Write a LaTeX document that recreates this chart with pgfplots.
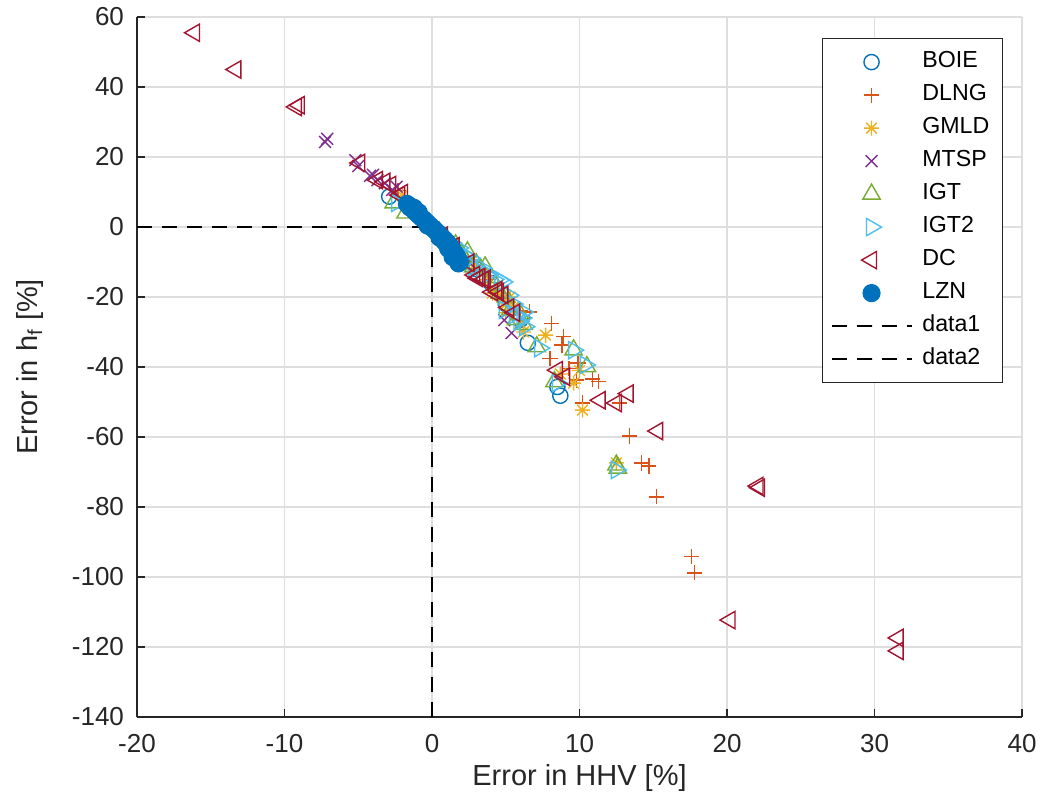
\documentclass[border=0pt]{standalone}
\usepackage{fontspec}
\setmainfont{Liberation Sans}
\usepackage{pgfplots}
\pgfplotsset{compat=1.18}
\usetikzlibrary{calc}

\definecolor{c1}{rgb}{0,0.447,0.741}
\definecolor{c2}{rgb}{0.850,0.325,0.098}
\definecolor{c3}{rgb}{0.929,0.694,0.125}
\definecolor{c4}{rgb}{0.494,0.184,0.556}
\definecolor{c5}{rgb}{0.466,0.674,0.188}
\definecolor{c6}{rgb}{0.301,0.745,0.933}
\definecolor{c7}{rgb}{0.635,0.078,0.184}

% matlab style 8-spoke asterisk
\pgfdeclareplotmark{ast8}{%
  \pgfpathmoveto{\pgfqpoint{-\pgfplotmarksize}{0pt}}\pgfpathlineto{\pgfqpoint{\pgfplotmarksize}{0pt}}%
  \pgfpathmoveto{\pgfqpoint{0pt}{-\pgfplotmarksize}}\pgfpathlineto{\pgfqpoint{0pt}{\pgfplotmarksize}}%
  \pgfpathmoveto{\pgfqpoint{-.707\pgfplotmarksize}{-.707\pgfplotmarksize}}\pgfpathlineto{\pgfqpoint{.707\pgfplotmarksize}{.707\pgfplotmarksize}}%
  \pgfpathmoveto{\pgfqpoint{-.707\pgfplotmarksize}{.707\pgfplotmarksize}}\pgfpathlineto{\pgfqpoint{.707\pgfplotmarksize}{-.707\pgfplotmarksize}}%
  \pgfusepathqstroke}

\begin{document}
\begin{tikzpicture}
\begin{axis}[
  name=ax,
  scale only axis,
  width=442.5pt, height=350pt,
  xmin=-20, xmax=40, ymin=-140, ymax=60,
  xtick={-20,-10,...,40}, ytick={-140,-120,...,60},
  axis x line*=bottom, axis y line*=left,
  axis line style={draw=black!85, line width=0.8pt, -},
  tick style={draw=black!85, line width=0.8pt},
  tick align=inside, major tick length=4pt,
  grid=major,
  major grid style={draw=black!13, line width=0.8pt},
  /pgf/number format/assume math mode=true,
  ticklabel style={font=\fontsize{13}{15}\selectfont, text=black!85},
  xticklabel style={yshift=-5pt},
  yticklabel style={xshift=-3pt},
  label style={font=\fontsize{14.5}{17}\selectfont, text=black!85},
  xlabel={Error in HHV [\%]},
  ylabel={Error in h\textsubscript{f} [\%]},
  xlabel style={at={(axis description cs:0.5,-0.087)}, anchor=center},
  ylabel style={at={(axis description cs:-0.121,0.5)}, anchor=center},
  legend image code/.code={\draw[mark repeat=2,mark phase=2,#1] plot coordinates {(0pt,0pt) (20pt,0pt) (40pt,0pt)};},
  legend cell align=left,
  legend style={at={(0.9785,0.97)}, anchor=north east,
    draw=black!85, line width=0.6pt, fill=white,
    font=\fontsize{11.6}{14}\selectfont,
    inner xsep=4pt, inner ysep=3.5pt, row sep=0pt, column sep=2.5pt,
    nodes={text height=8.5pt, text depth=3pt, inner ysep=2.5pt, inner xsep=2.5pt}},
  every axis plot/.append style={line width=0.7pt},
]
% BOIE
\addplot[only marks, mark=o, mark size=3.8pt, color=c1, mark options={draw=c1}] coordinates {
  (-2.9,8.7) (-1.0,4.0) (0.5,-2.0) (1.5,-7.0) (2.0,-9.0) (3.0,-12.0)
  (4.0,-16.0) (5.0,-22.0) (6.0,-26.5) (6.5,-33.1) (8.5,-45.7) (8.7,-48.2)
};
\addlegendentry{BOIE}
% DLNG
\addplot[only marks, mark=+, mark size=3.8pt, color=c2, mark options={draw=c2}] coordinates {
  (-2.3,10.5) (-1.2,5.2) (0.3,-1.5) (1.2,-5.5) (2.2,-9.5) (3.0,-12.5)
  (3.8,-15.0) (4.5,-19.0) (5.2,-21.5) (6.0,-24.0) (6.6,-24.3) (8.1,-27.5)
  (8.9,-31.3) (8.8,-33.7) (8.0,-37.5) (9.9,-38.9) (9.3,-40.5) (9.8,-43.7)
  (10.9,-43.4) (11.3,-44.2) (10.2,-50.3) (12.7,-50.3) (13.4,-59.7)
  (14.2,-67.4) (14.7,-68.3) (15.2,-77.1) (17.6,-94.2) (17.8,-98.8)
};
\addlegendentry{DLNG}
% GMLD
\addplot[only marks, mark=ast8, mark size=3.8pt, color=c3, mark options={draw=c3}] coordinates {
  (-2.0,9.0) (-0.5,2.5) (1.0,-4.0) (2.1,-8.5) (2.8,-11.0) (3.6,-14.0)
  (4.1,-18.9) (4.2,-17.5) (4.6,-19.5) (5.0,-22.0) (5.1,-21.7) (5.3,-20.0)
  (5.5,-23.0) (5.0,-24.5) (6.0,-27.5) (6.2,-30.0) (7.7,-30.9) (8.7,-42.0)
  (9.6,-44.6) (10.0,-41.0) (10.2,-52.3) (12.5,-67.4)
};
\addlegendentry{GMLD}
% MTSP
\addplot[only marks, mark=x, mark size=4.2pt, color=c4, mark options={draw=c4}] coordinates {
  (-7.25,24.3) (-7.1,25.2) (-5.2,19.1) (-5.0,17.4) (-4.2,14.6) (-4.0,14.9)
  (-3.7,13.4) (-3.2,12.5) (-2.7,10.6) (-2.4,11.5) (1.3,-5.0) (2.5,-10.0)
  (4.9,-26.6) (5.4,-30.3)
};
\addlegendentry{MTSP}
% IGT
\addplot[only marks, mark=triangle, mark size=5pt, color=c5, mark options={draw=c5}] coordinates {
  (-2.6,6.9) (-1.8,4.0) (0.5,-1.5) (1.0,-3.5) (1.6,-5.1) (2.0,-7.5)
  (2.4,-7.1) (2.8,-11.4) (3.0,-10.5) (3.3,-12.0) (3.6,-11.4) (4.0,-14.5)
  (4.3,-16.5) (4.6,-18.9) (5.0,-20.0) (5.3,-23.7) (5.7,-26.5) (6.0,-25.1)
  (6.2,-27.8) (7.1,-34.2) (8.3,-44.2) (9.6,-35.1) (10.5,-39.9) (12.5,-68.0)
  (12.6,-68.9)
};
\addlegendentry{IGT}
% IGT2
\addplot[only marks, mark=triangle, mark size=5pt, mark options={rotate=-90, draw=c6}, color=c6] coordinates {
  (-2.4,6.9) (0.8,-2.8) (1.3,-4.5) (1.8,-6.0) (2.2,-8.0) (2.6,-8.9)
  (2.8,-11.4) (3.4,-11.8) (3.8,-13.5) (4.2,-15.0) (4.6,-15.1) (4.8,-15.7)
  (5.2,-19.5) (5.5,-22.0) (4.9,-23.7) (5.6,-25.1) (5.9,-27.0) (6.1,-26.0)
  (6.2,-24.3) (6.3,-28.5) (7.3,-34.6) (8.5,-44.6) (9.6,-35.2) (10.4,-39.4)
  (12.5,-69.4)
};
\addlegendentry{IGT2}
% DC
\addplot[only marks, mark=triangle, mark size=5pt, mark options={rotate=90, draw=c7}, color=c7] coordinates {
  (-16.1,55.5) (-13.3,45.0) (-9.2,34.3) (-9.0,34.8) (-4.9,18.3)
  (-3.7,13.4) (-3.2,12.9) (-2.8,12.0) (-2.2,9.1) (-2.0,9.7)
  (0.7,-2.5) (1.5,-5.5) (2.5,-10.2)
  (2.9,-13.7) (3.1,-14.6) (3.25,-14.3) (3.5,-15.1) (3.6,-14.8) (4.1,-18.6)
  (4.4,-18.0) (4.5,-18.6) (4.8,-19.4) (5.2,-23.0) (5.6,-24.5)
  (8.5,-40.9) (9.0,-42.8) (11.4,-49.5) (12.5,-50.3)
  (13.3,-47.6) (15.3,-58.3) (22.1,-74.0) (22.2,-74.5) (20.2,-112.3)
  (31.6,-117.4) (31.6,-121.1)
};
\addlegendentry{DC}
% LZN
\addplot[only marks, mark=*, mark size=4.2pt, color=c1, mark options={draw=c1, fill=c1}] coordinates {
  (-1.7,6.6) (-1.6,6.2) (-1.5,5.6) (-1.5,6.0) (-1.4,5.4) (-1.3,5.6) (-1.2,4.6)
  (-1.1,4.2) (-1.0,3.8) (-0.9,3.4) (-0.8,3.0) (-0.7,2.6) (-0.6,2.3)
  (-0.5,1.9) (-0.4,1.5) (-0.3,1.1) (-0.2,0.6) (-0.1,0.3) (0.0,-0.2)
  (0.1,-0.5) (0.2,-0.9) (0.3,-1.3) (0.4,-1.7) (0.5,-2.1) (0.6,-2.6)
  (0.7,-3.0) (0.8,-3.4) (0.8,-4.0) (0.9,-3.8) (1.0,-4.3) (1.0,-5.1)
  (1.1,-4.8) (1.2,-5.3) (1.2,-6.0) (1.3,-5.9) (1.4,-6.5) (1.5,-7.2)
  (1.5,-8.2) (1.6,-7.9) (1.7,-8.6) (1.8,-9.3) (1.9,-10.0) (1.8,-10.4)
  (-1.2,5.4) (-0.9,4.2) (-0.3,0.4) (0.5,-3.0) (1.1,-6.2) (1.4,-8.6)
};
\addlegendentry{LZN}
\addplot[black, line width=0.8pt, dash pattern=on 7.5pt off 5pt] coordinates {(-20,0) (0,0)};
\addlegendentry{data1}
\addplot[black, line width=0.8pt, dash pattern=on 7.5pt off 5pt] coordinates {(0,0) (0,-140)};
\addlegendentry{data2}
\end{axis}
\pgfresetboundingbox
\path[use as bounding box] ($(ax.south west)+(-68.5pt,-43.5pt)$) rectangle ($(ax.north east)+(9pt,8.5pt)$);
\end{tikzpicture}
\end{document}
